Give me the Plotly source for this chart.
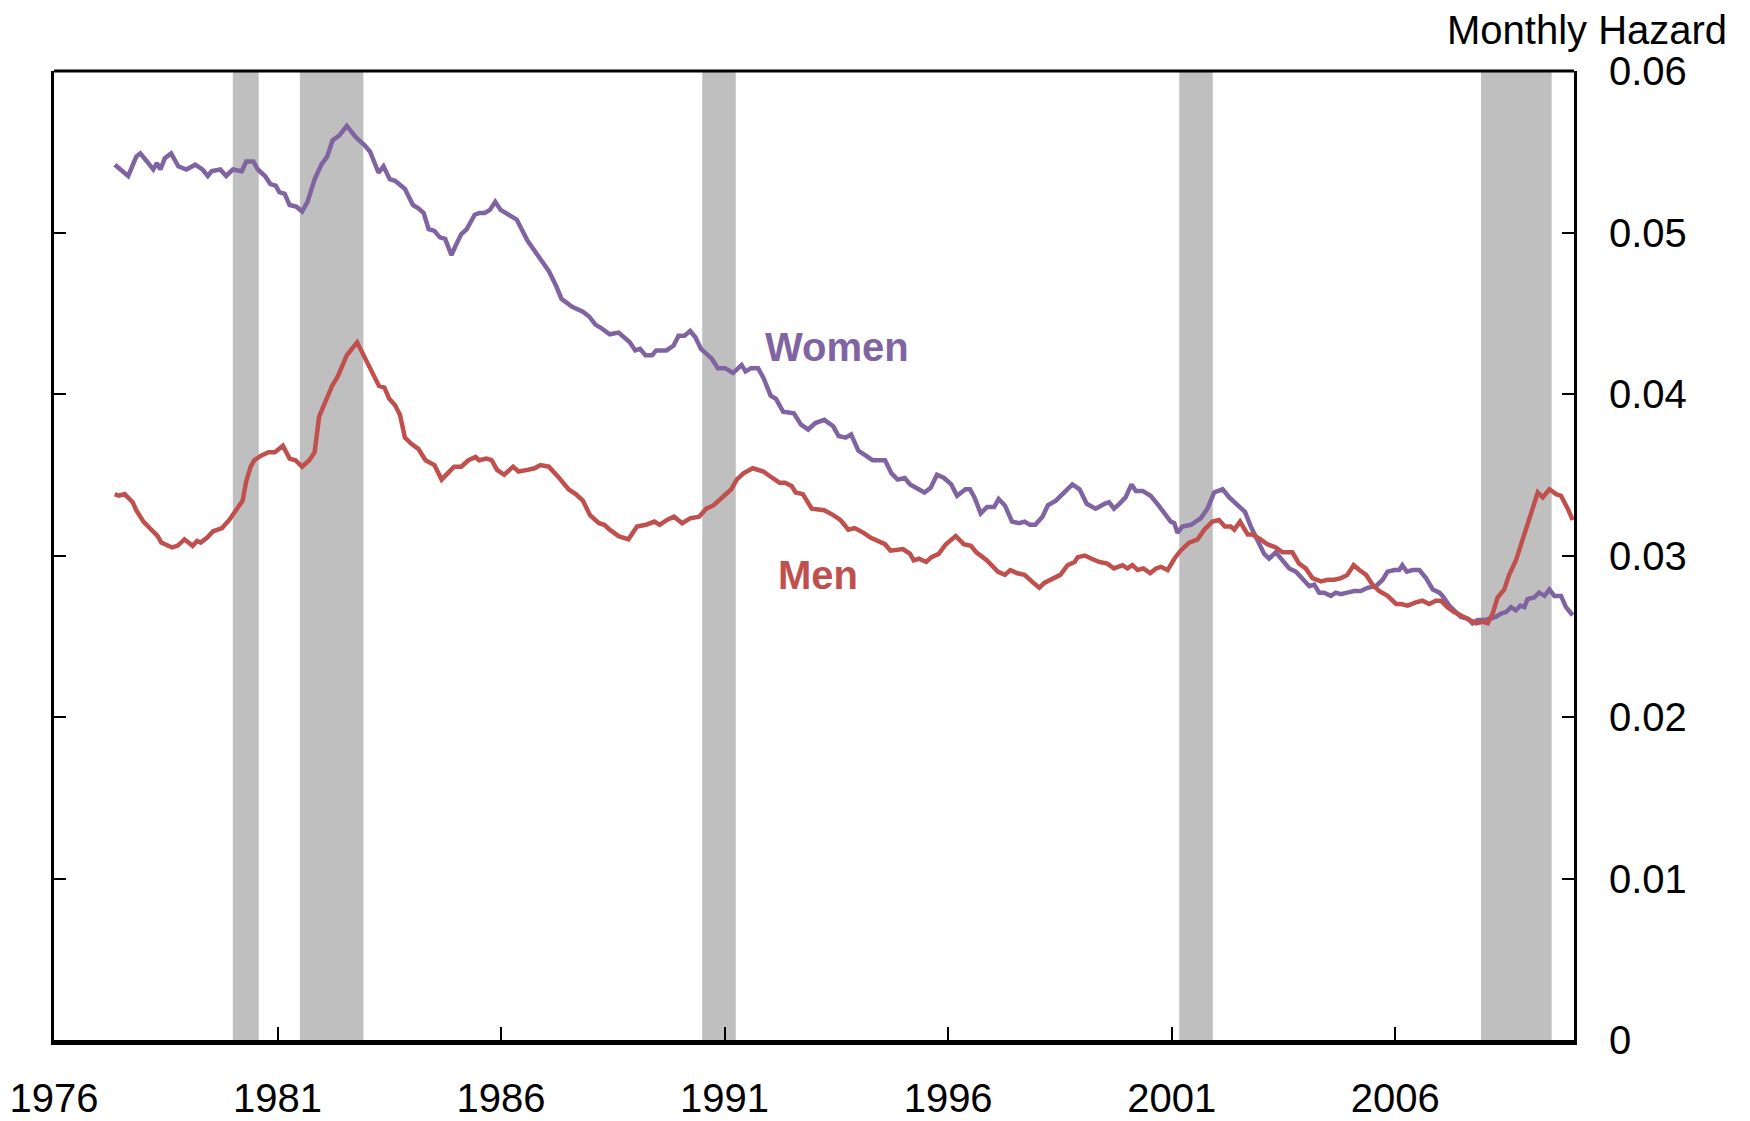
import plotly.graph_objects as go

# ---------------- data ----------------
women_x = [1977.36, 1977.66, 1977.84, 1977.93, 1978.08, 1978.22, 1978.30, 1978.38, 1978.48, 1978.62,
           1978.78, 1978.96, 1979.16, 1979.32, 1979.44, 1979.53, 1979.72, 1979.85, 1980.00, 1980.20,
           1980.30, 1980.46, 1980.56, 1980.72, 1980.84, 1980.96, 1981.04, 1981.16, 1981.27, 1981.42,
           1981.55, 1981.67, 1981.83, 1981.98, 1982.11, 1982.23, 1982.38, 1982.55, 1982.75, 1982.95,
           1983.07, 1983.26, 1983.37, 1983.51, 1983.63, 1983.85, 1984.03, 1984.15, 1984.27, 1984.38,
           1984.51, 1984.63, 1984.75, 1984.89, 1984.97, 1985.11, 1985.23, 1985.41, 1985.51, 1985.63,
           1985.75, 1985.87, 1985.99, 1986.15, 1986.35, 1986.59, 1986.83, 1987.07, 1987.23, 1987.35,
           1987.59, 1987.83, 1987.97, 1988.11, 1988.23, 1988.43, 1988.63,
           1988.88, 1989.00, 1989.11, 1989.23, 1989.38, 1989.47, 1989.70, 1989.86, 1989.97, 1990.10,
           1990.23, 1990.35, 1990.47, 1990.59, 1990.71, 1990.85, 1991.01, 1991.19, 1991.38, 1991.47,
           1991.59, 1991.75, 1991.87, 1992.03, 1992.15, 1992.31, 1992.55, 1992.71, 1992.87, 1993.03,
           1993.23, 1993.43, 1993.55, 1993.71, 1993.83, 1993.99, 1994.15, 1994.31, 1994.59, 1994.73,
           1994.87, 1995.03, 1995.15, 1995.27, 1995.47, 1995.61, 1995.75, 1995.91, 1996.07, 1996.20,
           1996.39, 1996.49, 1996.59, 1996.73, 1996.87, 1997.03, 1997.13, 1997.27, 1997.43, 1997.59,
           1997.71, 1997.83, 1997.95, 1998.11, 1998.23, 1998.41, 1998.58, 1998.78, 1998.94, 1999.10,
           1999.30,
           1999.42, 1999.50, 1999.60, 1999.71, 1999.83, 1999.97, 2000.10, 2000.20, 2000.35, 2000.53,
           2000.68, 2000.83, 2000.98, 2001.06, 2001.13, 2001.24, 2001.43, 2001.65, 2001.80, 2001.95,
           2002.14, 2002.29, 2002.47, 2002.64, 2002.77, 2002.92, 2003.07, 2003.18, 2003.33, 2003.48,
           2003.63, 2003.78, 2003.97, 2004.08, 2004.19, 2004.30, 2004.41, 2004.56, 2004.67, 2004.78,
           2004.93, 2005.08, 2005.23, 2005.38, 2005.57, 2005.72, 2005.83, 2005.98, 2006.09, 2006.16,
           2006.26, 2006.39, 2006.54, 2006.69, 2006.84, 2006.99, 2007.06, 2007.21, 2007.36, 2007.47,
           2007.62, 2007.73, 2007.84, 2007.99, 2008.14, 2008.25, 2008.37, 2008.48, 2008.59, 2008.70,
           2008.80, 2008.89, 2008.96, 2009.11, 2009.22, 2009.34, 2009.45, 2009.56, 2009.71, 2009.82,
           2009.97]
women_y = [0.0542, 0.0535, 0.0547, 0.0549, 0.0544, 0.0539, 0.0543, 0.0539, 0.0546, 0.0549,
           0.0541, 0.0539, 0.0542, 0.0539, 0.0535, 0.0538, 0.0539, 0.0535, 0.0539, 0.0538,
           0.0544, 0.0544, 0.0539, 0.0535, 0.0530, 0.0529, 0.0525, 0.0524, 0.0517, 0.0516,
           0.0513, 0.0519, 0.0533, 0.0542, 0.0547, 0.0557, 0.0560, 0.0566, 0.0559, 0.0554,
           0.0550, 0.0537, 0.0541, 0.0533, 0.0532, 0.0527, 0.0517, 0.0515, 0.0512, 0.0502,
           0.0501, 0.0497, 0.0496, 0.0486, 0.0491, 0.0499, 0.0502, 0.0511, 0.0512, 0.0512,
           0.0514, 0.0519, 0.0514, 0.0511, 0.0508, 0.0495, 0.0485, 0.0476, 0.0467, 0.0459,
           0.0454, 0.0451, 0.0448, 0.0443, 0.0441, 0.0437, 0.0438,
           0.0432, 0.0427, 0.0428, 0.0424, 0.0424, 0.0427, 0.0427, 0.0430, 0.0436, 0.0436,
           0.0439, 0.0435, 0.0428, 0.0425, 0.0422, 0.0416, 0.0416, 0.0413, 0.0418, 0.0414,
           0.0416, 0.0416, 0.0410, 0.0399, 0.0397, 0.0389, 0.0388, 0.0381, 0.0378, 0.0382,
           0.0384, 0.0380, 0.0374, 0.0373, 0.0375, 0.0365, 0.0362, 0.0359, 0.0359, 0.0351,
           0.0347, 0.0348, 0.0344, 0.0342, 0.0339, 0.0342, 0.0350, 0.0348, 0.0344, 0.0337,
           0.0341, 0.0341, 0.0336, 0.0326, 0.0330, 0.0330, 0.0335, 0.0331, 0.0321, 0.0320,
           0.0321, 0.0319, 0.0319, 0.0324, 0.0331, 0.0334, 0.0339, 0.0344, 0.0341, 0.0332,
           0.0329,
           0.0331, 0.0332, 0.0333, 0.0329, 0.0332, 0.0336, 0.0344, 0.0340, 0.0340, 0.0337,
           0.0332, 0.0326, 0.0321, 0.0320, 0.0314, 0.0318, 0.0319, 0.0323, 0.0329, 0.0339,
           0.0341, 0.0336, 0.0331, 0.0327, 0.0318, 0.0310, 0.0301, 0.0298, 0.0302, 0.0297,
           0.0292, 0.0290, 0.0284, 0.0281, 0.0282, 0.0277, 0.0277, 0.0275, 0.0277, 0.0276,
           0.0277, 0.0278, 0.0278, 0.0280, 0.0281, 0.0285, 0.0290, 0.0291, 0.0291, 0.0294,
           0.0290, 0.0291, 0.0291, 0.0286, 0.0279, 0.0277, 0.0275, 0.0269, 0.0265, 0.0262,
           0.0261, 0.0258, 0.0260, 0.0260, 0.0261, 0.0262, 0.0264, 0.0265, 0.0268, 0.0266,
           0.0269, 0.0268, 0.0273, 0.0274, 0.0277, 0.0275, 0.0279, 0.0275, 0.0275, 0.0268,
           0.0263]

men_x = [1977.36, 1977.45, 1977.58, 1977.76, 1977.84, 1978.00, 1978.14, 1978.32, 1978.40, 1978.64,
         1978.76, 1978.92, 1979.10, 1979.20, 1979.28, 1979.42, 1979.56, 1979.76, 1979.92, 1980.04,
         1980.22, 1980.30, 1980.40, 1980.48, 1980.64, 1980.80, 1980.94, 1981.12, 1981.27, 1981.40,
         1981.55, 1981.71, 1981.83, 1981.93, 1982.06, 1982.22, 1982.35, 1982.55, 1982.78, 1982.95,
         1983.11, 1983.27, 1983.39, 1983.50, 1983.63, 1983.74, 1983.85, 1984.00, 1984.15, 1984.31,
         1984.51, 1984.67, 1984.81, 1984.95, 1985.11, 1985.27, 1985.43, 1985.51, 1985.67, 1985.79,
         1985.91, 1986.07, 1986.27, 1986.39, 1986.59, 1986.75, 1986.88, 1987.07, 1987.27, 1987.51,
         1987.67, 1987.83, 1987.99, 1988.19, 1988.31, 1988.43, 1988.63,
         1988.85, 1989.04, 1989.24, 1989.43, 1989.55, 1989.71, 1989.87, 1990.05, 1990.23, 1990.43,
         1990.59, 1990.75, 1990.99, 1991.15, 1991.27, 1991.43, 1991.63, 1991.87, 1992.07, 1992.23,
         1992.35, 1992.50, 1992.59, 1992.75, 1992.95, 1993.23, 1993.43, 1993.59, 1993.77, 1993.91,
         1994.11, 1994.27, 1994.59, 1994.71, 1994.99, 1995.15, 1995.23, 1995.35, 1995.51, 1995.63,
         1995.79, 1995.95, 1996.17, 1996.35, 1996.51, 1996.63, 1996.87, 1997.11, 1997.27, 1997.39,
         1997.55, 1997.71, 1997.87, 1998.04, 1998.15, 1998.35, 1998.51, 1998.67, 1998.83, 1998.90,
         1999.06, 1999.21, 1999.38,
         1999.56, 1999.71, 1999.90, 2000.01, 2000.12, 2000.24, 2000.37, 2000.52, 2000.65, 2000.76,
         2000.91, 2001.06, 2001.20, 2001.39, 2001.58, 2001.73, 2001.91, 2002.06, 2002.19, 2002.32,
         2002.40, 2002.53, 2002.70, 2002.81, 2002.99, 2003.14, 2003.33, 2003.48, 2003.70, 2003.85,
         2004.00, 2004.15, 2004.34, 2004.49, 2004.64, 2004.79, 2004.93, 2005.07, 2005.20, 2005.35,
         2005.49, 2005.64, 2005.83, 2006.02, 2006.13, 2006.28, 2006.46, 2006.61, 2006.76, 2006.91,
         2007.02, 2007.17, 2007.32, 2007.51, 2007.66, 2007.81, 2007.96, 2008.07, 2008.18, 2008.29,
         2008.44, 2008.55, 2008.70, 2008.85, 2009.00, 2009.19, 2009.30, 2009.45, 2009.60, 2009.71,
         2009.86, 2009.97]
men_y = [0.0338, 0.0337, 0.0338, 0.0333, 0.0328, 0.0321, 0.0317, 0.0312, 0.0308, 0.0305,
         0.0306, 0.0310, 0.0306, 0.0309, 0.0308, 0.0311, 0.0315, 0.0317, 0.0322, 0.0327,
         0.0334, 0.0346, 0.0355, 0.0359, 0.0362, 0.0364, 0.0364, 0.0368, 0.0360, 0.0359,
         0.0355, 0.0359, 0.0364, 0.0386, 0.0394, 0.0405, 0.0411, 0.0424, 0.0432, 0.0423,
         0.0414, 0.0405, 0.0404, 0.0397, 0.0393, 0.0387, 0.0373, 0.0369, 0.0366, 0.0359,
         0.0356, 0.0347, 0.0351, 0.0355, 0.0355, 0.0359, 0.0361, 0.0359, 0.0360, 0.0359,
         0.0353, 0.0350, 0.0355, 0.0352, 0.0353, 0.0354, 0.0356, 0.0355, 0.0349, 0.0341,
         0.0338, 0.0334, 0.0325, 0.0320, 0.0319, 0.0316, 0.0312,
         0.0310, 0.0318, 0.0319, 0.0321, 0.0319, 0.0322, 0.0324, 0.0320, 0.0323, 0.0324,
         0.0329, 0.0331, 0.0337, 0.0341, 0.0347, 0.0351, 0.0354, 0.0352, 0.0348, 0.0345,
         0.0345, 0.0343, 0.0339, 0.0338, 0.0329, 0.0328, 0.0325, 0.0322, 0.0316, 0.0317,
         0.0314, 0.0311, 0.0307, 0.0303, 0.0304, 0.0301, 0.0297, 0.0298, 0.0296, 0.0299,
         0.0301, 0.0307, 0.0312, 0.0307, 0.0306, 0.0302, 0.0297, 0.0290, 0.0288, 0.0291,
         0.0289, 0.0288, 0.0284, 0.0280, 0.0283, 0.0286, 0.0288, 0.0294, 0.0296, 0.0299,
         0.0300, 0.0298, 0.0296,
         0.0295, 0.0292, 0.0294, 0.0292, 0.0294, 0.0291, 0.0292, 0.0289, 0.0292, 0.0293,
         0.0291, 0.0298, 0.0303, 0.0308, 0.0310, 0.0316, 0.0321, 0.0322, 0.0318, 0.0318,
         0.0316, 0.0321, 0.0313, 0.0313, 0.0310, 0.0307, 0.0305, 0.0302, 0.0302, 0.0295,
         0.0292, 0.0286, 0.0284, 0.0285, 0.0285, 0.0286, 0.0288, 0.0294, 0.0291, 0.0288,
         0.0282, 0.0278, 0.0275, 0.0270, 0.0270, 0.0269, 0.0271, 0.0272, 0.0270, 0.0272,
         0.0272, 0.0268, 0.0265, 0.0262, 0.0260, 0.0258, 0.0259, 0.0258, 0.0264, 0.0274,
         0.0279, 0.0288, 0.0297, 0.0310, 0.0324, 0.0339, 0.0336, 0.0341, 0.0338, 0.0337,
         0.0329, 0.0322]

recession_start = [1980.00, 1981.50, 1990.50, 2001.17, 2007.92]
recession_end = [1980.58, 1982.92, 1991.25, 2001.92, 2009.50]

x_tick_vals = [1976, 1981, 1986, 1991, 1996, 2001, 2006]
x_tick_text = ["1976", "1981", "1986", "1991", "1996", "2001", "2006"]
y_tick_vals = [0, 0.01, 0.02, 0.03, 0.04, 0.05, 0.06]
y_tick_text = ["0", "0.01", "0.02", "0.03", "0.04", "0.05", "0.06"]

WOMEN_COLOR = "#8064A2"
MEN_COLOR = "#C0504D"
SHADE = "#BFBFBF"
FONT = "Liberation Sans, Arial, sans-serif"

fig = go.Figure()
fig.add_trace(go.Scatter(x=women_x, y=women_y, mode="lines", name="Women",
                         line=dict(color=WOMEN_COLOR, width=4.5)))
fig.add_trace(go.Scatter(x=men_x, y=men_y, mode="lines", name="Men",
                         line=dict(color=MEN_COLOR, width=4.5)))

shapes = []
for s, e in zip(recession_start, recession_end):
    shapes.append(dict(type="rect", xref="x", yref="paper", x0=s, x1=e, y0=0, y1=1,
                       fillcolor=SHADE, line=dict(width=0), layer="below"))
# top frame line
shapes.append(dict(type="line", xref="paper", yref="paper", x0=0, x1=1, y0=1, y1=1,
                   line=dict(color="black", width=3)))

# the page body keeps its default 8px margin, so the figure is 8px smaller on each axis
fig.update_layout(
    width=1742, height=1113,
    margin=dict(l=46, r=176, t=63, b=81, autoexpand=False),
    paper_bgcolor="white", plot_bgcolor="white",
    showlegend=False,
    font=dict(family=FONT, size=40, color="black"),
    shapes=shapes,
    xaxis=dict(range=[1976, 2010], tickvals=x_tick_vals, ticktext=x_tick_text,
               ticks="inside", ticklen=13, tickwidth=2, tickcolor="black",
               showline=True, linecolor="black", linewidth=5,
               showgrid=False, zeroline=False, automargin=False,
               tickfont=dict(family=FONT, size=40, color="black"),
               ticklabelstandoff=19),
    yaxis=dict(range=[0, 0.06], side="right", tickvals=y_tick_vals, ticktext=y_tick_text,
               ticks="inside", ticklen=12, tickwidth=2, tickcolor="black",
               showline=True, linecolor="black", linewidth=3, mirror="allticks",
               showgrid=False, zeroline=False, automargin=False,
               tickfont=dict(family=FONT, size=40, color="black"),
               ticklabelstandoff=24),
    annotations=[
        dict(text="Monthly Hazard", xref="paper", yref="paper", x=1.101, y=1.0425,
             xanchor="right", yanchor="middle", showarrow=False, borderpad=0,
             font=dict(family=FONT, size=40, color="black")),
        dict(text="<b>Women</b>", xref="x", yref="y", x=1991.86, y=0.04293,
             xanchor="left", yanchor="middle", showarrow=False,
             font=dict(family=FONT, size=40, color=WOMEN_COLOR)),
        dict(text="<b>Men</b>", xref="x", yref="y", x=1992.16, y=0.02882,
             xanchor="left", yanchor="middle", showarrow=False,
             font=dict(family=FONT, size=40, color=MEN_COLOR)),
    ],
)

fig.write_html("out.html")
